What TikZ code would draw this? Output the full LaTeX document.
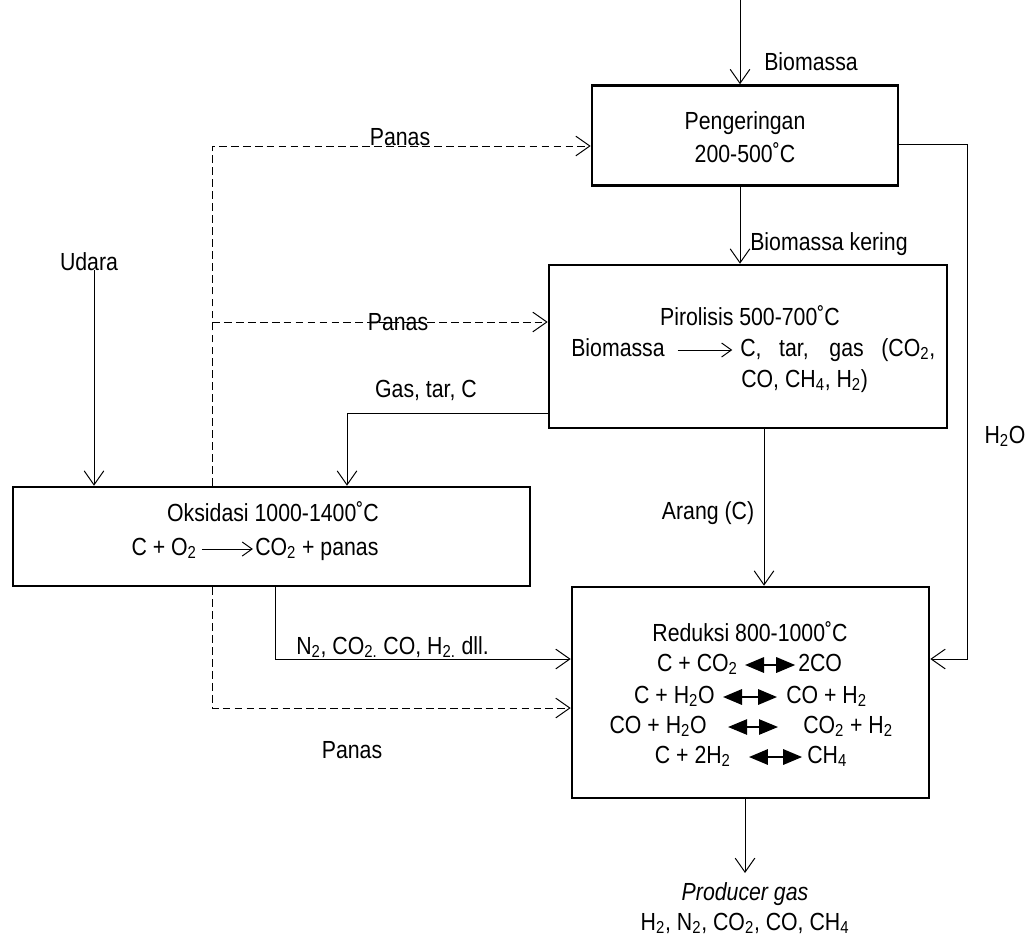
\documentclass[tikz,border=0pt]{standalone}
\usepackage{fontspec}
\setmainfont[FakeStretch=0.86]{Liberation Sans}
\usetikzlibrary{arrows.meta,positioning}

\begin{document}
\begin{tikzpicture}[
    x=0.025cm, y=-0.025cm,
    font=\fontsize{17.6}{20}\selectfont,
    stage/.style={draw, line width=1.8pt, inner sep=0pt},
    txt/.style={inner sep=0pt, text height=12.6pt, text depth=4pt},
    flow/.style={-{Straight Barb[length=10pt,width=14pt]}, line width=0.7pt},
    heat/.style={flow, dash pattern=on 5.5pt off 3pt},
    yield/.style={-{Straight Barb[length=7pt,width=10pt]}, line width=0.7pt},
    equil/.style={{Triangle[length=13.5pt,width=11pt]}-{Triangle[length=13.5pt,width=11pt]}, line width=1.3pt}
  ]
  \useasboundingbox (0,0) rectangle (1036,941);

  % Stages
  \node[stage, minimum width=7.65cm, minimum height=2.5cm] (peng) at (745,135.5) {};
  \node[stage, minimum width=9.95cm, minimum height=4.075cm] (pir) at (748,346.5) {};
  \node[stage, minimum width=12.925cm, minimum height=2.475cm] (oks) at (271.5,536.5) {};
  \node[stage, minimum width=8.925cm, minimum height=5.275cm] (red) at (750.5,692.5) {};

  % Pengeringan
  \node[txt] (pengT) at (745,123) {Pengeringan};
  \node[txt] (pengT2) at (745,156) {200-500˚C};

  % Pirolisis
  \node[txt] (pirT) at (750,319) {Pirolisis 500-700˚C};
  \node[txt, anchor=east] (pirL) at (665,350) {Biomassa};
  \node[txt, anchor=west] (pirR) at (740,350) {\makebox[4.875cm][s]{C, tar, gas (CO\textsubscript{2},}};
  \node[txt, anchor=west] (pirR2) at (741,381) {CO, CH\textsubscript{4}, H\textsubscript{2})};
  \draw[yield, shorten <=9pt, shorten >=5.5pt] (pirL.east) -- (pirR.west);

  % Oksidasi
  \node[txt] (oksT) at (273,515) {Oksidasi 1000-1400˚C};
  \node[txt, anchor=east] (oksL) at (197,549) {C + O\textsubscript{2}};
  \node[txt, anchor=west] (oksR) at (255,549) {CO\textsubscript{2} + panas};
  \draw[yield, shorten <=3.5pt, shorten >=1.5pt] (oksL.east) -- (oksR.west);

  % Reduksi
  \node[txt] (redT) at (750,635) {Reduksi 800-1000˚C};
  \node[txt, anchor=east] (r1l) at (738,665) {C + CO\textsubscript{2}};
  \node[txt, anchor=west] (r1r) at (798,665) {2CO};
  \node[txt, anchor=east] (r2l) at (715,697) {C + H\textsubscript{2}O};
  \node[txt, anchor=west] (r2r) at (786,697) {CO + H\textsubscript{2}};
  \node[txt, anchor=east] (r3l) at (707,727) {CO + H\textsubscript{2}O};
  \node[txt, anchor=west] (r3r) at (803,727) {CO\textsubscript{2} + H\textsubscript{2}};
  \node[txt, anchor=east] (r4l) at (731,757) {C + 2H\textsubscript{2}};
  \node[txt, anchor=west] (r4r) at (807,757) {CH\textsubscript{4}};
  \draw[equil, shorten <=5pt, shorten >=2pt] (r1l.east) -- (r1r.west);
  \draw[equil, shorten <=5.7pt, shorten >=6.4pt] (r2l.east) -- (r2r.west);
  \draw[equil, line width=0.8pt, shorten <=15pt, shorten >=17.8pt] (r3l.east) -- (r3r.west);
  \draw[equil, shorten <=12.8pt, shorten >=3.5pt] (r4l.east) -- (r4r.west);

  % Biomassa in and dried biomass
  \coordinate (bioIn) at (740,0);
  \draw[flow] (bioIn) -- (bioIn |- peng.north);
  \node[txt] (bioLbl) at (811,64) {Biomassa};
  \draw[flow] (peng.south -| bioIn) -- (pir.north -| bioIn);
  \node[txt, anchor=west] (keringLbl) at (750,244) {Biomassa kering};

  % Steam to reduction
  \coordinate (h2o) at (967,144);
  \draw[flow] (peng.east |- h2o) -- (h2o) |- ([yshift=0.8375cm]red.east);
  \node[txt] (h2oLbl) at (1005,437) {H\textsubscript{2}O};

  % Air
  \node[txt] (udara) at (89,264) {Udara};
  \coordinate (udaraIn) at (94,270);
  \draw[flow] (udaraIn) -- (udaraIn |- oks.north);

  % Heat from oxidation
  \coordinate (heatA) at (212,146);
  \coordinate (heatB) at (212,322);
  \coordinate (heatC) at (212,708);
  \draw[heat] (oks.north -| heatA) -- (heatA) -- (heatA -| peng.west);
  \draw[heat] (heatB) -- (heatB -| pir.west);
  \draw[heat] (oks.south -| heatC) -- (heatC) -- (heatC -| red.west);
  \node[txt] (panas1) at (400,139) {Panas};
  \node[txt] (panas2) at (398,324) {Panas};
  \node[txt] (panas3) at (352,752) {Panas};

  % Gas, tar to oxidation
  \coordinate (gasTar) at (347,413);
  \draw[flow] (gasTar -| pir.west) -- (gasTar) -- (gasTar |- oks.north);
  \node[txt] (gasLbl) at (426,391) {Gas, tar, C};

  % Char to reduction
  \coordinate (arang) at (764,428);
  \draw[flow] (arang |- pir.south) -- (arang |- red.north);
  \node[txt] (arangLbl) at (708,513) {Arang (C)};

  % Flue gas to reduction
  \coordinate (flue) at (275,659);
  \draw[flow] (oks.south -| flue) -- (flue) -- (flue -| red.west);
  \node[txt, anchor=west] (flueLbl) at (296,648) {N\textsubscript{2}, CO\textsubscript{2.} CO, H\textsubscript{2.} dll.};

  % Producer gas out
  \coordinate (gasOut) at (745,873);
  \draw[flow] (gasOut |- red.south) -- (gasOut);
  \node[txt] (prodLbl) at (745,894) {\itshape Producer gas};
  \node[txt] (prodGas) at (745,924) {H\textsubscript{2}, N\textsubscript{2}, CO\textsubscript{2}, CO, CH\textsubscript{4}};
\end{tikzpicture}
\end{document}
